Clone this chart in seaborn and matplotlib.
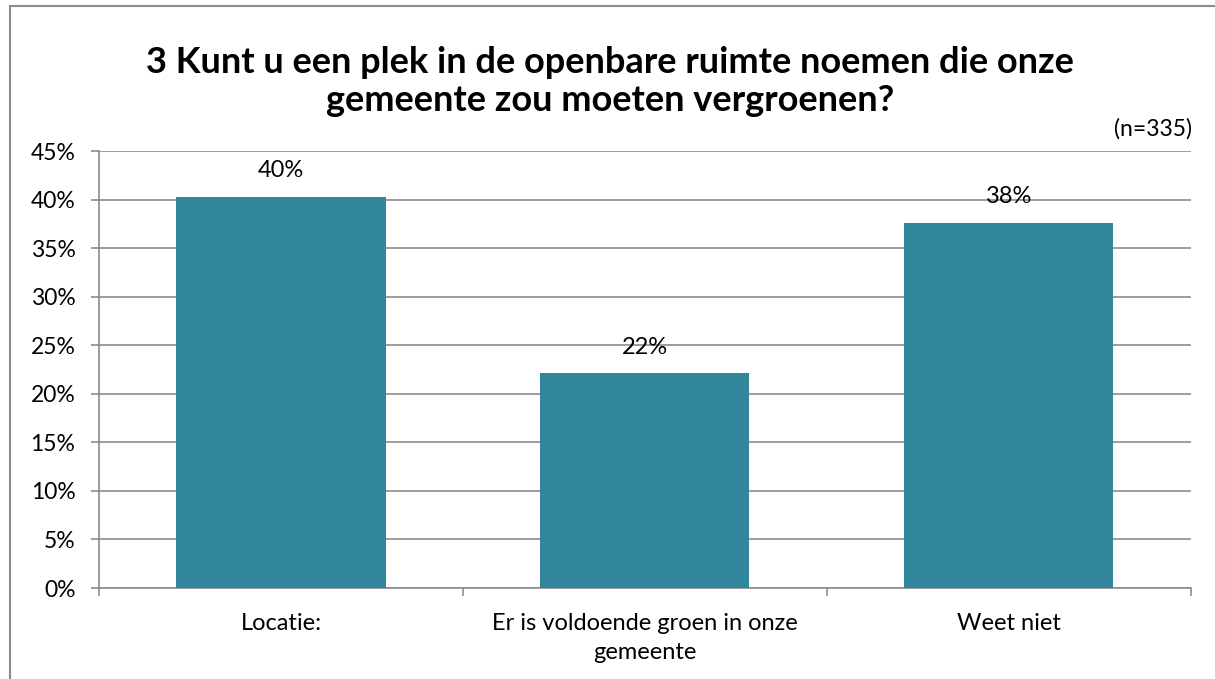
import matplotlib
matplotlib.use("Agg")
import matplotlib.pyplot as plt
import seaborn as sns
import pandas as pd
from matplotlib.patches import Rectangle
from matplotlib.ticker import FixedLocator

categories = ["Locatie:", "Er is voldoende groen in onze\ngemeente", "Weet niet"]
values = [40.3, 22.1, 37.6]
value_labels = ["40%", "22%", "38%"]
yticks = [0, 5, 10, 15, 20, 25, 30, 35, 40, 45]
ytick_labels = [f"{t}%" for t in yticks]
title = "3 Kunt u een plek in de openbare ruimte noemen die onze\ngemeente zou moeten vergroenen?"
n_label = "(n=335)"

sns.set_theme(style="white")
plt.rcParams["font.family"] = ["Lato", "DejaVu Sans"]
plt.rcParams["text.color"] = "#000000"

df = pd.DataFrame({"cat": categories, "val": values})

fig = plt.figure(figsize=(12.15, 6.79), dpi=100)
ax = fig.add_axes([0.0815, 0.134, 0.8985, 0.6436])

grid_c = "#8C8C8C"
sns.barplot(data=df, x="cat", y="val", color="#31869B", saturation=1,
            width=0.575, ax=ax, zorder=3, edgecolor="none")

ax.set_ylim(0, 45)
ax.set_xlim(-0.5, 2.5)
ax.set_yticks(yticks)
ax.set_yticklabels(ytick_labels, fontsize=16.5, color="#000000")
ax.yaxis.grid(True, color=grid_c, linewidth=1.2, zorder=0)
ax.set_axisbelow(True)
ax.set_xlabel("")
ax.set_ylabel("")
ax.set_xticks(range(len(categories)))
ax.set_xticklabels(categories, fontsize=17, color="#000000", linespacing=1.45)
ax.tick_params(axis="x", which="major", length=0, pad=18)
ax.xaxis.set_minor_locator(FixedLocator([-0.5, 0.5, 1.5, 2.5]))
ax.tick_params(axis="x", which="minor", length=6, color=grid_c, width=1.2, bottom=True)
ax.tick_params(axis="y", length=6, color=grid_c, width=1.2, left=True, pad=11)

for s in ["top", "right"]:
    ax.spines[s].set_visible(False)
for s in ["left", "bottom"]:
    ax.spines[s].set_color(grid_c)
    ax.spines[s].set_linewidth(1.2)

for i, (v, lab) in enumerate(zip(values, value_labels)):
    ax.annotate(lab, xy=(i, v), xytext=(0, 19), textcoords="offset points",
                ha="center", va="center", fontsize=17, color="#000000", zorder=5)

fig.text(0.502, 0.880, title, ha="center", va="center", fontsize=26,
         fontweight="bold", linespacing=1.15, color="#000000")
fig.text(0.981, 0.811, n_label, ha="right", va="center", fontsize=16.5, color="#000000")

fig.patches.append(Rectangle((10 / 1215, -0.01), 1.2, 1 - 6 / 679 + 0.01,
                             transform=fig.transFigure, fill=False,
                             edgecolor="#8C8C8C", linewidth=1.5))

fig.savefig("out.png", dpi=100)
